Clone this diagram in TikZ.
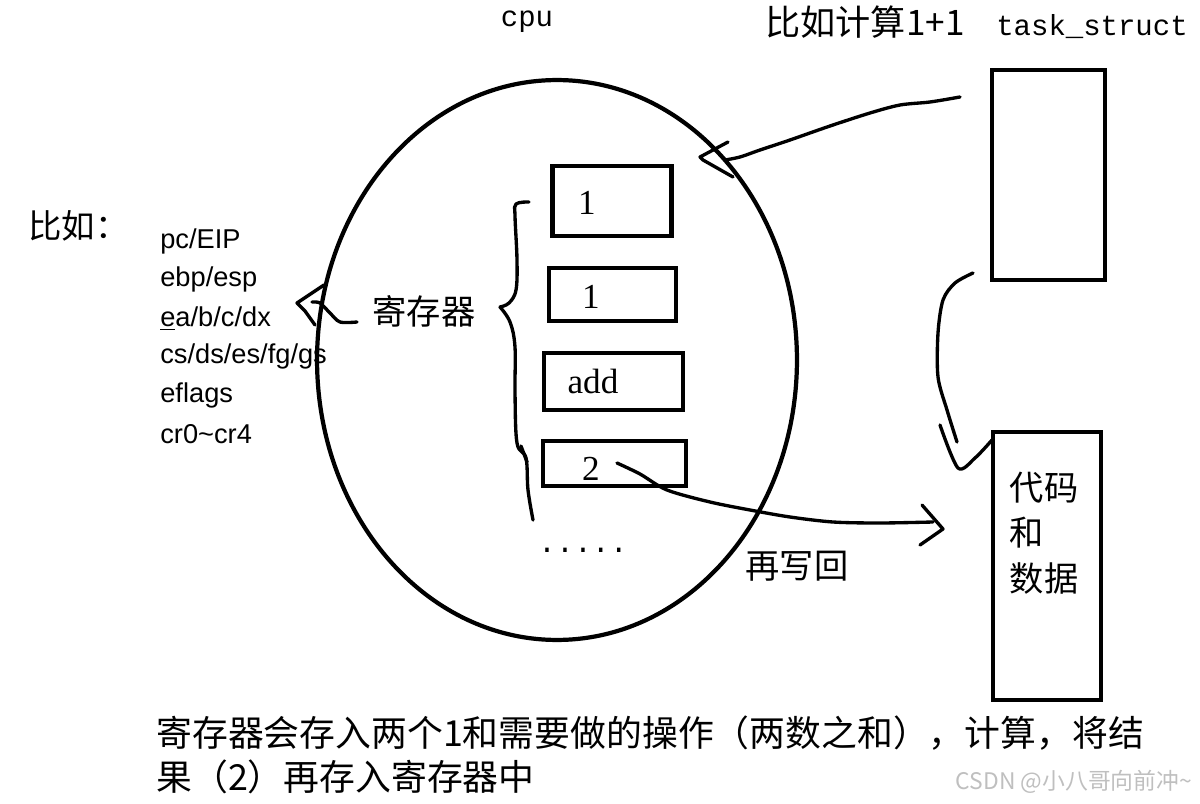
\documentclass[tikz,border=0pt]{standalone}
\usepackage{fontspec}
\setmainfont{Liberation Serif}
\newfontfamily\cjk{Noto Sans CJK SC}
\newfontfamily\regfont{Liberation Sans}
\newfontfamily\codefont{Liberation Mono}
\usepackage{tikz}
\usetikzlibrary{shapes.geometric}

\begin{document}
\begin{tikzpicture}[x=0.02cm, y=-0.02cm,
  box/.style={draw=black, line width=2.3pt, inner sep=0pt},
  num/.style={inner sep=0pt, font=\fontsize{20}{24}\selectfont},
  cn/.style={inner sep=0pt, font=\cjk\fontsize{19.5}{26}\selectfont},
  mono/.style={inner sep=0pt, font=\codefont\fontsize{16.5}{20}\selectfont},
  lst/.style={inner sep=0pt, anchor=west, font=\regfont\fontsize{15.5}{18}\selectfont},
  hand/.style={line width=1.9pt, line cap=round, line join=round}
]
  \useasboundingbox (0,0) rectangle (1200,804);

  % Nodes
  \node[draw, ellipse, line width=2.4pt, inner sep=0pt,
        minimum width=9.6cm, minimum height=11.2cm] (cpu) at (557,360) {};
  \node[mono] (cputxt) at (527,22) {cpu};
  \node[cn, font=\cjk\fontsize{20}{24}\selectfont] (calc) at (865,22) {比如计算1+1};
  \node[mono] (tstxt) at (1092,27) {task\_struct};

  \node[box, minimum width=2.26cm, minimum height=4.2cm] (task) at (1048.5,175) {};
  \node[box, minimum width=2.16cm, minimum height=5.36cm] (code) at (1047,566) {};
  \node[cn, align=left] (codetxt) at (1044,533) {代码\\和\\数据};

  \node[box, minimum width=2.38cm, minimum height=1.4cm] (r1) at (612,201) {};
  \node[box, minimum width=2.54cm, minimum height=1.06cm] (r2) at (612.5,294.5) {};
  \node[box, minimum width=2.78cm, minimum height=1.14cm] (r3) at (613.5,381.5) {};
  \node[box, minimum width=2.86cm, minimum height=0.9cm] (r4) at (614.5,463.5) {};
  \node[num] (v1) at (587,203) {1};
  \node[num] (v2) at (591,297) {1};
  \node[num] (op) at (593,381) {add};
  \node[num] (res) at (591,469) {2};
  \node[mono, font=\codefont\fontsize{17}{18}\selectfont] (more) at (583,550) {.....};

  \node[cn] (regs) at (424,311) {寄存器};
  \node[cn, anchor=west, font=\cjk\fontsize{19}{22}\selectfont] (eg) at (28,226) {比如：};
  \foreach \t [count=\i] in {pc/EIP, ebp/esp, \underline{e}a/b/c/dx, cs/ds/es/fg/gs, eflags, cr0\textasciitilde cr4}
    \node[lst] (reg\i) at (160,{241+38.6*(\i-1)}) {\t};

  \node[cn] (back) at (797,566) {再写回};
  \node[cn, anchor=west, align=left, font=\cjk\fontsize{20.4}{25}\selectfont] (note) at (156,755)
    {寄存器会存入两个1和需要做的操作（两数之和），计算，将结\\果（2）再存入寄存器中};
  \node[inner sep=0pt, text=gray!50, font=\cjk\fontsize{13}{15}\selectfont] (mark) at (1074,782)
    {CSDN @小八哥向前冲\textasciitilde};

  % Paths
  \coordinate (tsout) at (960,97);
  \coordinate (tsdown) at (973,273);
  \coordinate (regsend) at (357,322);
  % brace round the registers
  \draw[hand] plot[smooth, tension=0.6] coordinates {(529,202) (516,204) (515,216) (517,260) (516,290) (509,303) (500,307)};
  \draw[hand] plot[smooth, tension=0.6] coordinates {(500,307) (510,322) (515,347) (515,393) (517,443) (526,458) (528,490) (533,520)};
  \draw[hand] (521,446) -- (527,462);
  % registers -> list
  \draw[hand] plot[smooth] coordinates {(regsend) (340,322) (330,313) (320,303) (312,302)};
  \draw[hand] (324,285) -- (297,303) -- (305,311) -- (315,325);
  % task_struct -> cpu
  \draw[hand] plot[smooth] coordinates {(tsout) (930,102) (900,105) (870,113) (830,126) (790,140) (760,150) (740,157) (725,160)};
  \draw[hand] (728,142) -- (700,157) -- (703,160) -- (733,177);
  % task_struct -> code
  \draw[hand] plot[smooth] coordinates {(tsdown) (955,283) (943,300) (938,333) (938,377) (947,410) (957,442)};
  \draw[hand] plot[smooth] coordinates {(940,425) (958,468) (975,458) (992,440)};
  % result -> code
  \draw[hand] plot[smooth] coordinates {(617,463) (640,474) (667,490) (710,502) (750,510) (790,517) (833,522) (880,523) (933,522)};
  \draw[hand] (922,505) -- (943,529) -- (920,545);
\end{tikzpicture}
\end{document}
